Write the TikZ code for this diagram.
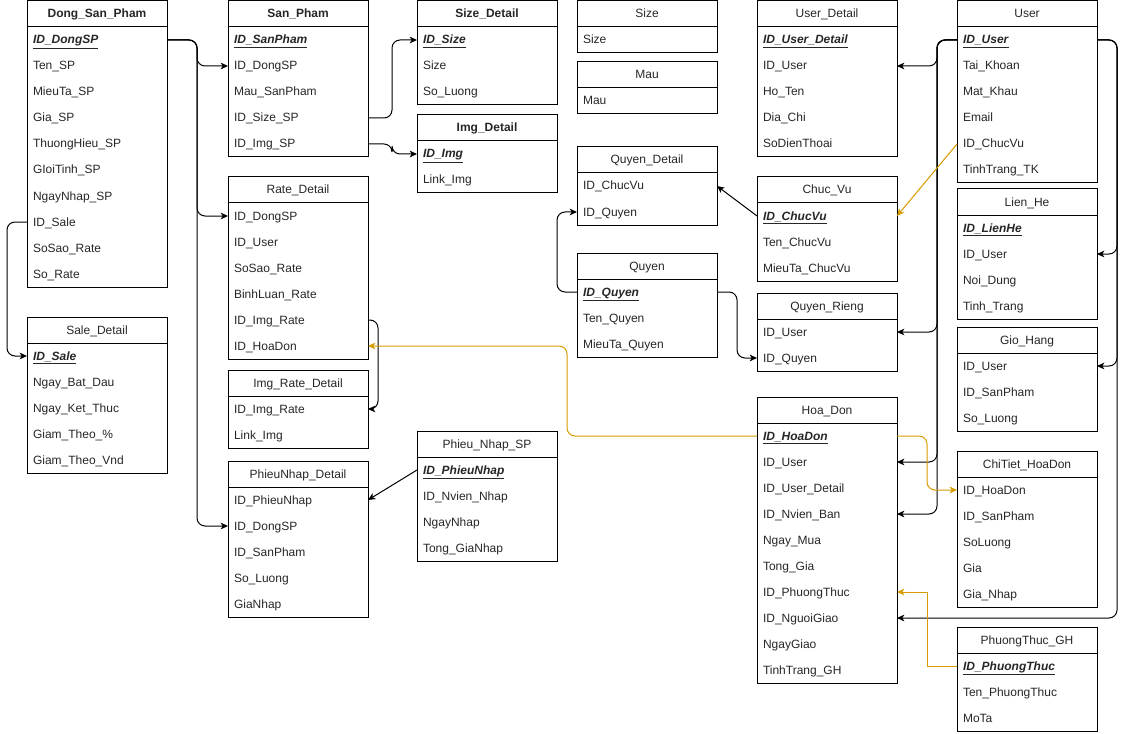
\documentclass[tikz,border=0pt]{standalone}
\usepackage{fontspec}
\setmainfont{Liberation Sans}
\usetikzlibrary{arrows.meta}

\definecolor{orangeline}{HTML}{D79B00}

\tikzset{
  ertitle/.style={draw, anchor=north west, minimum width=105pt, minimum height=19.5pt,
    inner sep=0pt, outer sep=0pt, align=center, text height=8pt, text depth=2pt},
  errow/.style={anchor=north west, minimum width=105pt, minimum height=19.5pt,
    inner xsep=4.5pt, inner ysep=0pt, outer sep=0pt, text width=96pt, align=left,
    text height=8pt, text depth=2pt},
  fk/.style={->, rounded corners=6pt},
  fkorange/.style={fk, draw=orangeline},
}

% key attribute
\newcommand{\erkey}[1]{\underline{\textbf{\textit{#1}}}}

% table: name, x, y (top), title, rows
\newcommand{\ertable}[5]{%
  \node[ertitle] (#1) at (#2,#3) {#4};
  \foreach \rowtext [count=\i] in {#5} {
    \node[errow] (#1-\i) at (#2,#3+26*\i) {\rowtext};
    \xdef\erlast{\i}
  }
  \draw (#1.north west) rectangle (#1-\erlast.south east);
}

\begin{document}
\begin{tikzpicture}[>={Stealth[length=5.5pt,width=5pt,inset=1.5pt]}, x=0.75pt, y=-0.75pt,
    line width=0.75pt, font=\fontsize{9}{11}\selectfont, text=black!85]
  \useasboundingbox (0,0) rectangle (1126,734);

  \ertable{dsp}{27}{1}{\textbf{Dong\_San\_Pham}}{\erkey{ID\_DongSP}, Ten\_SP, MieuTa\_SP, Gia\_SP,
    ThuongHieu\_SP, GIoiTinh\_SP, NgayNhap\_SP, ID\_Sale, SoSao\_Rate, So\_Rate}
  \ertable{sd}{27}{317}{Sale\_Detail}{\erkey{ID\_Sale}, Ngay\_Bat\_Dau, Ngay\_Ket\_Thuc,
    Giam\_Theo\_\%, Giam\_Theo\_Vnd}

  \ertable{sp}{228}{1}{\textbf{San\_Pham}}{\erkey{ID\_SanPham}, ID\_DongSP, Mau\_SanPham,
    ID\_Size\_SP, ID\_Img\_SP}
  \ertable{rd}{228}{177}{Rate\_Detail}{ID\_DongSP, ID\_User, SoSao\_Rate, BinhLuan\_Rate,
    ID\_Img\_Rate, ID\_HoaDon}
  \ertable{ird}{228}{370}{Img\_Rate\_Detail}{ID\_Img\_Rate, Link\_Img}
  \ertable{pnd}{228}{461}{PhieuNhap\_Detail}{ID\_PhieuNhap, ID\_DongSP, ID\_SanPham,
    So\_Luong, GiaNhap}

  \ertable{szd}{417}{1}{\textbf{Size\_Detail}}{\erkey{ID\_Size}, Size, So\_Luong}
  \ertable{imd}{417}{115}{\textbf{Img\_Detail}}{\erkey{ID\_Img}, Link\_Img}
  \ertable{pn}{417}{431}{Phieu\_Nhap\_SP}{\erkey{ID\_PhieuNhap}, ID\_Nvien\_Nhap, NgayNhap,
    Tong\_GiaNhap}

  \ertable{sz}{577}{1}{Size}{Size}
  \ertable{mau}{577}{62}{Mau}{Mau}
  \ertable{qd}{577}{147}{Quyen\_Detail}{ID\_ChucVu, ID\_Quyen}
  \ertable{q}{577}{253}{Quyen}{\erkey{ID\_Quyen}, Ten\_Quyen, MieuTa\_Quyen}

  \ertable{ud}{757}{1}{User\_Detail}{\erkey{ID\_User\_Detail}, ID\_User, Ho\_Ten, Dia\_Chi,
    SoDienThoai}
  \ertable{cv}{757}{177}{Chuc\_Vu}{\erkey{ID\_ChucVu}, Ten\_ChucVu, MieuTa\_ChucVu}
  \ertable{qr}{757}{293}{Quyen\_Rieng}{ID\_User, ID\_Quyen}
  \ertable{hd}{757}{397}{Hoa\_Don}{\erkey{ID\_HoaDon}, ID\_User, ID\_User\_Detail, ID\_Nvien\_Ban,
    Ngay\_Mua, Tong\_Gia, ID\_PhuongThuc, ID\_NguoiGiao, NgayGiao, TinhTrang\_GH}

  \ertable{u}{957}{1}{User}{\erkey{ID\_User}, Tai\_Khoan, Mat\_Khau, Email, ID\_ChucVu,
    TinhTrang\_TK}
  \ertable{lh}{957}{189}{Lien\_He}{\erkey{ID\_LienHe}, ID\_User, Noi\_Dung, Tinh\_Trang}
  \ertable{gh}{957}{327}{Gio\_Hang}{ID\_User, ID\_SanPham, So\_Luong}
  \ertable{ct}{957}{451}{ChiTiet\_HoaDon}{ID\_HoaDon, ID\_SanPham, SoLuong, Gia, Gia\_Nhap}
  \ertable{pt}{957}{627}{PhuongThuc\_GH}{\erkey{ID\_PhuongThuc}, Ten\_PhuongThuc, MoTa}

  % san pham side
  \draw[fk] (dsp-1.east) -- ++(30,0) |- (sp-2.west);
  \draw[fk] (dsp-1.east) -- ++(30,0) |- (rd-1.west);
  \draw[fk] (dsp-1.east) -- ++(30,0) |- (pnd-2.west);
  \draw[fk] (dsp-8.west) -- ++(-20,0) |- (sd-1.west);
  \draw[fk] (sp-4.east) -- ++(24,0) |- (szd-1.west);
  \draw[fk] (sp-5.east) -- ++(24,0) |- (imd-1.west);
  \draw[fk] (rd-5.east) -- ++(10,0) |- (ird-1.east);
  \draw[->] (pn-1.west) -- (pnd-1.east);

  % quyen
  \draw[->] (cv-1.west) -- (qd-1.east);
  \draw[fk] (q-1.west) -- ++(-20,0) |- (qd-2.west);
  \draw[fk] (q-1.east) -- ++(20,0) |- (qr-2.west);

  % user
  \draw[fk] (u-1.west) -- ++(-20,0) |- (ud-2.east);
  \draw[fk] (u-1.west) -- ++(-20,0) |- (qr-1.east);
  \draw[fk] (u-1.west) -- ++(-20,0) |- (hd-2.east);
  \draw[fk] (u-1.west) -- ++(-20,0) |- (hd-4.east);
  \draw[fk] (u-1.east) -- ++(20,0) |- (lh-2.east);
  \draw[fk] (u-1.east) -- ++(20,0) |- (gh-1.east);
  \draw[fk] (u-1.east) -- ++(20,0) |- (hd-8.east);

  % orange links
  \draw[->, draw=orangeline] (u-5.west) -- (cv-1.east);
  \draw[fkorange] (hd-1.west) -- ++(-190,0) |- (rd-6.east);
  \draw[fkorange] (hd-1.east) -- ++(30,0) |- (ct-1.west);
  \draw[->, draw=orangeline] (pt-1.west) -- ++(-30,0) |- (hd-7.east);
\end{tikzpicture}
\end{document}
